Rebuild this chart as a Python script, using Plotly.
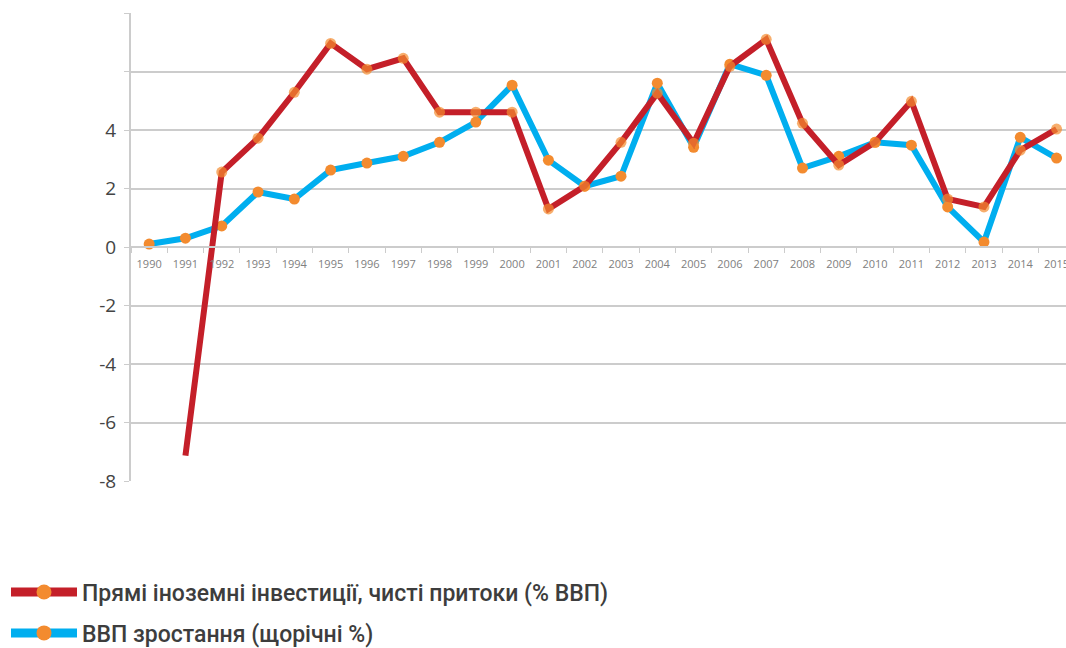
import plotly.graph_objects as go

years = [str(y) for y in range(1990, 2016)]

fdi = [None, -7.13, 2.56, 3.72, 5.29, 6.96, 6.08, 6.45, 4.61, 4.61, 4.61, 1.30, 2.08,
       3.58, 5.26, 3.55, 6.18, 7.10, 4.23, 2.80, 3.58, 4.98, 1.64, 1.37, 3.31, 4.03]
gdp = [0.10, 0.30, 0.72, 1.88, 1.64, 2.63, 2.87, 3.10, 3.58, 4.27, 5.53, 2.97, 2.08,
       2.42, 5.60, 3.41, 6.25, 5.87, 2.70, 3.10, 3.58, 3.48, 1.37, 0.17, 3.75, 3.04]

fdi_name = "Прямі іноземні інвестиції, чисті притоки (% ВВП)"
gdp_name = "ВВП зростання (щорічні %)"

y_ticks = [-8, -6, -4, -2, 0, 2, 4, 6, 8]
y_ticktext = ["-8", "-6", "-4", "-2", "0", "2", "4", "", ""]

RED = "#C41F29"
BLUE = "#00AEEF"
ORANGE = "#F38B2F"

fig = go.Figure()
fig.add_trace(go.Scatter(
    x=years, y=gdp, name=gdp_name, mode="lines+markers", showlegend=False,
    legendgroup="gdp",
    line=dict(color=BLUE, width=6),
    marker=dict(color=ORANGE, size=11, line=dict(width=0)),
))
fig.add_trace(go.Scatter(
    x=years, y=fdi, name=fdi_name, mode="lines+markers", showlegend=False,
    legendgroup="fdi",
    line=dict(color=RED, width=6),
    marker=dict(color=ORANGE, size=[0 if (i == 1) else 11 for i in range(len(years))],
                line=dict(width=0)),
    connectgaps=False,
))
# legend entries (thicker symbols as in the reference legend)
for name, color, grp, rank in [(fdi_name, RED, "fdi", 1), (gdp_name, BLUE, "gdp", 2)]:
    fig.add_trace(go.Scatter(
        x=[None], y=[None], name=name, mode="lines+markers", legendgroup=grp,
        legendrank=rank, showlegend=True,
        line=dict(color=color, width=9),
        marker=dict(color=ORANGE, size=15, line=dict(width=0)),
    ))

fig.update_layout(
    width=1066, height=648,
    margin=dict(l=131, r=0, t=13, b=167, autoexpand=False),
    paper_bgcolor="white", plot_bgcolor="white",
    showlegend=True,
    legend=dict(
        x=6 / 1066, xref="container", y=0.1195, yref="container",
        xanchor="left", yanchor="top",
        itemwidth=66, tracegroupgap=8,
        font=dict(family="Roboto", size=23, color="#3d3d3d", weight=500),
    ),
    xaxis=dict(
        type="category", range=[-0.5, 25.26],
        anchor="free", position=0.5,
        showline=True, linecolor="#cccccc", linewidth=2,
        ticks="outside", ticklen=5, tickcolor="#cccccc", tickwidth=1,
        tickson="boundaries", showgrid=False, tickangle=0,
        tickfont=dict(family="Open Sans", size=11, color="#808080"),
        ticklabelstandoff=7,
    ),
    yaxis=dict(
        range=[-8, 8], tickvals=y_ticks, ticktext=y_ticktext,
        showline=True, linecolor="#cccccc", linewidth=2,
        showgrid=True, gridcolor="#cccccc", gridwidth=1.5,
        zeroline=False,
        ticks="outside", ticklen=5, tickcolor="#cccccc",
        tickfont=dict(family="Open Sans", size=19, color="#444444"),
        ticklabelstandoff=4,
    ),
)

fig.write_html(
    "out.html",
    config={"displayModeBar": False},
    post_script="document.body.style.margin='0';document.body.style.overflow='hidden';",
)
